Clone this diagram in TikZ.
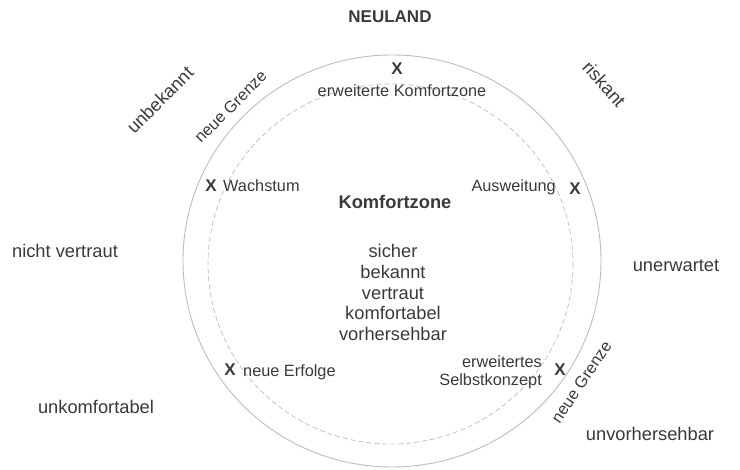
\documentclass[tikz,border=0pt]{standalone}
\usepackage{fontspec}
\setmainfont{Liberation Sans}
\definecolor{textgray}{HTML}{3A3A3A}
\definecolor{ringgray}{HTML}{BDBDBD}
\definecolor{dashgray}{HTML}{C4C4C4}
\begin{document}
\begin{tikzpicture}[x=1pt,y=-1pt,
  txt/.style={text=textgray, inner sep=0pt, text height=0.72em, text depth=0pt},
  big/.style={txt, font=\fontsize{18.3}{20.8}\selectfont},
  small/.style={txt, font=\fontsize{16.3}{18.5}\selectfont},
  multi/.style={text=textgray, inner sep=0pt},
  xmark/.style={txt, font=\fontsize{17}{20}\selectfont\bfseries},
  ring/.style={draw=ringgray, line width=0.9pt},
  dashring/.style={draw=dashgray, line width=0.8pt, dash pattern=on 5pt off 3pt}
]
\useasboundingbox (0,0) rectangle (740,470);
\fill[white] (0,0) rectangle (740,470);
% rings
\path[ring] (392,261) ellipse [x radius=209, y radius=206];
\path[dashring] (390.5,264) ellipse [x radius=182.5, y radius=180];
% outer words
\node[xmark] (neuland) at (390,19) {NEULAND};
\node[big, rotate=45] (unbekannt) at (162,102) {unbekannt};
\node[big, rotate=-48] (riskant) at (602,86) {riskant};
\node[small, rotate=45] (grenzeA) at (232,108) {neue Grenze};
\node[small, rotate=56] (grenzeB) at (583,383) {neue Grenze};
\node[big] (nichtvertraut) at (65,254) {nicht vertraut};
\node[big] (unerwartet) at (676,268) {unerwartet};
\node[big] (unkomfortabel) at (96,410) {unkomfortabel};
\node[big] (unvorhersehbar) at (650,437) {unvorhersehbar};
% ring marks
\node[xmark] (xtop) at (397,71) {X};
\node[small] (erwkz) at (402,93) {erweiterte Komfortzone};
\node[xmark] (xwachs) at (211,188) {X};
\node[small, anchor=west] (wachstum) at (223,188) {Wachstum};
\node[small, anchor=east] (ausweitung) at (556,188) {Ausweitung};
\node[xmark] (xausw) at (575,191) {X};
\node[xmark] (xerfolge) at (230,372) {X};
\node[small, anchor=west] (erfolge) at (243,373) {neue Erfolge};
\node[multi, font=\fontsize{16.3}{18.5}\selectfont, anchor=north east, align=right] (selbst) at (542,355) {erweitertes\\Selbstkonzept};
\node[xmark] (xselbst) at (560,372) {X};
% centre
\node[big, font=\fontsize{18.3}{20.8}\selectfont\bfseries] (kz) at (395,205) {Komfortzone};
\node[multi, font=\fontsize{18.3}{20.8}\selectfont, anchor=north, align=center] (liste) at (393,244) {sicher\\bekannt\\vertraut\\komfortabel\\vorhersehbar};
\end{tikzpicture}
\end{document}
